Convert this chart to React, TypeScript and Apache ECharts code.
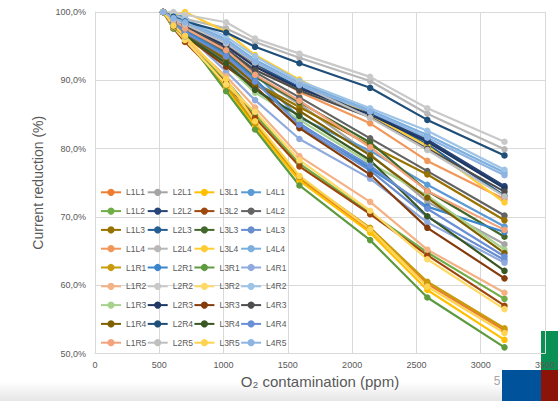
import React, { useEffect, useRef } from "react";
import * as echarts from "echarts";

// O2 contamination levels (ppm) at which the current was measured
const ppm = [530, 610, 700, 1020, 1245, 1590, 2140, 2585, 3185];

// Cell positions inside each line (legend rows) and the lines (legend columns)
const positions = ["L1", "L2", "L3", "L4", "R1", "R2", "R3", "R4", "R5"];
const lines = ["L1", "L2", "L3", "L4"];

// Current reduction (%) per position, one list per line
const valuesL1 = [
  [100, 98.8, 96.0, 89.0, 83.5, 75.5, 68.0, 60.2, 53.4],
  [100, 97.7, 95.8, 90.0, 85.0, 77.8, 70.6, 64.8, 58.0],
  [100, 98.5, 97.4, 93.3, 89.6, 86.1, 80.5, 76.2, 69.5],
  [100, 98.8, 97.9, 95.0, 92.1, 88.3, 83.7, 78.2, 72.6],
  [100, 98.1, 96.2, 89.2, 83.7, 75.8, 68.4, 60.5, 53.7],
  [100, 97.8, 96.0, 90.6, 86.0, 78.9, 72.2, 65.2, 58.9],
  [100, 98.0, 96.4, 92.2, 88.2, 84.2, 77.9, 73.1, 65.2],
  [100, 98.2, 97.0, 93.0, 89.4, 85.5, 79.0, 72.8, 64.7],
  [100, 98.8, 97.6, 94.4, 90.8, 87.0, 80.2, 73.8, 68.1],
];
const valuesL2 = [
  [100, 98.5, 97.5, 94.0, 90.6, 86.5, 79.2, 72.2, 66.0],
  [100, 99.0, 98.3, 95.3, 92.4, 89.0, 85.2, 81.3, 74.5],
  [100, 99.0, 98.2, 95.2, 92.2, 88.9, 85.1, 80.6, 73.1],
  [100, 99.5, 99.0, 97.6, 95.6, 93.3, 89.9, 85.1, 79.9],
  [100, 98.4, 97.3, 93.8, 90.2, 83.7, 77.1, 71.5, 67.8],
  [100, 100, 99.6, 98.5, 96.1, 93.9, 90.5, 85.9, 81.0],
  [100, 98.9, 98.1, 95.0, 92.0, 88.8, 85.0, 81.0, 74.2],
  [100, 99.3, 98.6, 97.0, 94.9, 92.5, 88.9, 84.2, 79.0],
  [100, 98.9, 98.2, 95.4, 92.6, 89.4, 84.5, 79.8, 73.0],
];
const valuesL3 = [
  [100, 97.9, 96.1, 88.9, 83.2, 75.3, 67.7, 59.3, 52.0],
  [100, 97.6, 95.6, 89.6, 84.5, 77.4, 70.4, 64.4, 57.0],
  [100, 98.3, 97.2, 93.9, 90.5, 86.8, 80.9, 73.8, 67.1],
  [100, 99.6, 100, 97.1, 93.7, 90.1, 84.9, 80.4, 72.1],
  [100, 97.6, 96.4, 88.4, 82.8, 74.6, 66.6, 58.2, 50.9],
  [100, 97.8, 95.9, 89.4, 85.4, 78.3, 70.9, 63.8, 56.5],
  [100, 97.9, 96.5, 92.0, 89.1, 83.0, 76.2, 68.4, 61.0],
  [100, 98.0, 96.6, 92.5, 88.6, 84.8, 78.3, 70.1, 62.1],
  [100, 98.0, 96.5, 90.2, 84.0, 76.0, 68.2, 59.8, 53.0],
];
const valuesL4 = [
  [100, 99.6, 99.3, 94.8, 91.0, 84.5, 79.7, 74.7, 68.6],
  [100, 98.6, 97.6, 94.2, 91.2, 87.5, 81.5, 76.7, 70.2],
  [100, 98.1, 96.8, 92.8, 88.8, 83.2, 76.8, 70.0, 63.7],
  [100, 99.2, 98.7, 96.0, 93.0, 89.6, 85.6, 82.0, 76.5],
  [100, 98.2, 96.9, 91.3, 87.1, 81.4, 75.6, 69.2, 63.3],
  [100, 99.4, 98.9, 96.4, 93.5, 89.9, 85.9, 82.6, 76.9],
  [100, 98.8, 98.0, 94.6, 91.5, 88.5, 84.6, 80.0, 73.7],
  [100, 98.3, 97.0, 93.5, 89.8, 83.5, 77.5, 71.2, 64.2],
  [100, 99.1, 98.5, 95.7, 92.7, 89.3, 85.4, 81.6, 76.1],
];

const colorsL1 = ["#ED7D31", "#70AD47", "#997300", "#F1975A", "#C99A0A", "#F4B183", "#A9D18E", "#7F6000", "#F3A27B"];
const colorsL2 = ["#A5A5A5", "#264478", "#255E91", "#B7B7B7", "#3A86CC", "#C9C9C9", "#203864", "#1F4E79", "#BFBFBF"];
const colorsL3 = ["#FFC000", "#9E480E", "#43682B", "#FFCD33", "#5E9A3E", "#FFD966", "#843C0C", "#385723", "#FFD34F"];
const colorsL4 = ["#5B9BD5", "#636363", "#698ED0", "#7CAFDD", "#8FAADC", "#9DC3E6", "#4D4D4D", "#6A8FD6", "#8DB4E2"];

const yTicks = [50, 60, 70, 80, 90, 100];
const xTicks = [0, 500, 1000, 1500, 2000, 2500, 3000, 3500];

const FONT = "'Liberation Sans', Arial, sans-serif";
const TEXT = "#595959";
const GRID = "#D9D9D9";

const valuesByLine = [valuesL1, valuesL2, valuesL3, valuesL4];
const colorsByLine = [colorsL1, colorsL2, colorsL3, colorsL4];

function buildOption() {
  const series: any[] = [];
  // Spreadsheet series order: row by row, L1..L4 within each row
  positions.forEach((pos, p) => {
    lines.forEach((ln, l) => {
      const color = colorsByLine[l][p];
      const vals = valuesByLine[l][p];
      series.push({
        type: "line",
        name: ln + pos,
        data: ppm.map((x, i) => [x, vals[i]]),
        symbol: "circle",
        symbolSize: 6.5,
        showSymbol: true,
        lineStyle: { width: 2.2, color },
        itemStyle: { color },
        emphasis: { disabled: true },
      });
    });
  });

  const legends = lines.map((ln, c) => ({
    orient: "vertical",
    left: 100 + c * 46.7,
    top: 186.3,
    padding: 0,
    itemGap: 6.8,
    itemWidth: 20,
    itemHeight: 9,
    selectedMode: false,
    textStyle: { fontSize: 8.5, color: TEXT, fontFamily: FONT, lineHeight: 12 },
    data: positions.map((p) => ln + p),
  }));

  return {
    animation: false,
    backgroundColor: "#ffffff",
    textStyle: { fontFamily: FONT },
    grid: { left: 95, right: -3, top: 12, bottom: 47.5, containLabel: false },
    xAxis: {
      type: "value",
      min: xTicks[0],
      max: xTicks[xTicks.length - 1],
      interval: 500,
      name: "O₂ contamination (ppm)",
      nameLocation: "middle",
      nameGap: 20,
      nameTextStyle: { fontSize: 15, color: TEXT, fontFamily: FONT },
      axisLine: { show: true, lineStyle: { color: GRID, width: 1 } },
      axisTick: { show: false },
      axisLabel: {
        fontSize: 9,
        color: TEXT,
        margin: 7,
        fontFamily: FONT,
        formatter: (v: number) => String(v),
      },
      splitLine: { show: true, lineStyle: { color: GRID, width: 1 } },
    },
    yAxis: {
      type: "value",
      min: yTicks[0],
      max: yTicks[yTicks.length - 1],
      interval: 10,
      name: "Current reduction (%)",
      nameLocation: "middle",
      nameGap: 38,
      nameTextStyle: { fontSize: 14, color: TEXT, fontFamily: FONT },
      axisLine: { show: true, lineStyle: { color: GRID, width: 1 } },
      axisTick: { show: false },
      axisLabel: {
        fontSize: 9,
        color: TEXT,
        margin: 9,
        fontFamily: FONT,
        formatter: (v: number) => v.toFixed(1).replace(".", ",") + "%",
      },
      splitLine: { show: true, lineStyle: { color: GRID, width: 1 } },
    },
    legend: legends,
    graphic: [
      {
        type: "rect",
        z: -10,
        shape: { x: 0, y: 382, width: 558, height: 19 },
        style: {
          fill: new echarts.graphic.LinearGradient(0, 0, 0, 1, [
            { offset: 0, color: "rgba(0,0,0,0)" },
            { offset: 1, color: "rgba(0,0,0,0.1)" },
          ]),
        },
        silent: true,
      },
      { type: "rect", z: -5, shape: { x: 541, y: 331, width: 17, height: 39 }, style: { fill: "#0A8F55" }, silent: true },
      { type: "rect", z: 50, shape: { x: 502, y: 370, width: 39, height: 31 }, style: { fill: "#00529B" }, silent: true },
      { type: "rect", z: 50, shape: { x: 541, y: 370, width: 17, height: 31 }, style: { fill: "#8B1308" }, silent: true },
      {
        type: "text",
        z: 50,
        x: 497,
        y: 381,
        style: {
          text: "5",
          fontSize: 12,
          fill: "#A6A6A6",
          fontFamily: FONT,
          align: "center",
          verticalAlign: "middle",
        },
        silent: true,
      },
    ],
    series,
  };
}

export default function App() {
  const ref = useRef<HTMLDivElement>(null);
  useEffect(() => {
    if (!ref.current) return;
    const chart = echarts.init(ref.current, undefined, { renderer: "svg" });
    chart.setOption(buildOption() as any);
    return () => chart.dispose();
  }, []);
  return (
    <div
      ref={ref}
      style={{ position: "fixed", left: 0, top: 0, width: 558, height: 401, background: "#fff" }}
    />
  );
}
